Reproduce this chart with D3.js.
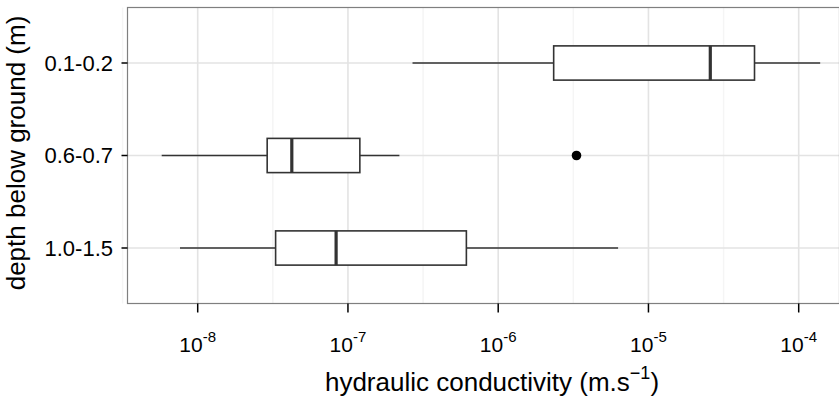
<!DOCTYPE html>
<html>
<head>
<meta charset="utf-8">
<script src="https://cdn.jsdelivr.net/npm/d3@7"></script>
<style>
  html, body { margin: 0; padding: 0; background: #ffffff; }
  svg { display: block; font-family: "Liberation Sans", Arial, sans-serif; }
</style>
</head>
<body>
<svg id="chart" width="839" height="401"></svg>
<script>
// ---- data ----
const categories = ["0.1-0.2", "0.6-0.7", "1.0-1.5"];
const whiskerLow = [2.69e-7, 5.76e-9, 7.62e-9];
const q1 = [2.34e-6, 2.90e-8, 3.30e-8];
const median = [2.58e-5, 4.23e-8, 8.34e-8];
const q3 = [5.08e-5, 1.20e-7, 6.14e-7];
const whiskerHigh = [1.39e-4, 2.20e-7, 6.28e-6];
const outlierCategory = ["0.6-0.7"];
const outlierValue = [3.32e-6];
const tickExponents = [-8, -7, -6, -5, -4];
const minorExponents = [-8.5, -7.5, -6.5, -5.5, -4.5, -3.5];
const xTitle = "hydraulic conductivity (m.s";
const yTitle = "depth below ground (m)";

// ---- layout ----
const svg = d3.select("#chart");
const panel = { left: 127.5, right: 839.5, top: 7.5, bottom: 303.5 };

const x = d3.scaleLog().domain([1e-8, 1e-4]).range([197.7, 798.7]);
const y = d3.scalePoint().domain(categories)
  .range([panel.top, panel.bottom]).padding(0.6);
const boxH = y.step() * 0.37;

const g = svg.append("g");

g.append("rect")
  .attr("x", panel.left).attr("y", panel.top)
  .attr("width", panel.right - panel.left).attr("height", panel.bottom - panel.top)
  .attr("fill", "#ffffff");

// minor grid
g.selectAll(".minor").data(minorExponents).enter().append("line")
  .attr("x1", d => x(Math.pow(10, d))).attr("x2", d => x(Math.pow(10, d)))
  .attr("y1", panel.top).attr("y2", panel.bottom)
  .attr("stroke", "#f5f5f5").attr("stroke-width", 1.5);

// major grid vertical
g.selectAll(".majorx").data(tickExponents).enter().append("line")
  .attr("x1", d => x(Math.pow(10, d))).attr("x2", d => x(Math.pow(10, d)))
  .attr("y1", panel.top).attr("y2", panel.bottom)
  .attr("stroke", "#e3e3e3").attr("stroke-width", 1.6);

// major grid horizontal
g.selectAll(".majory").data(categories).enter().append("line")
  .attr("x1", panel.left).attr("x2", panel.right)
  .attr("y1", d => y(d)).attr("y2", d => y(d))
  .attr("stroke", "#e3e3e3").attr("stroke-width", 1.6);

// boxplots
const rows = categories.map((c, i) => ({
  c, lo: whiskerLow[i], q1: q1[i], med: median[i], q3: q3[i], hi: whiskerHigh[i]
}));
const line = "#333333";
const bg = g.selectAll(".box").data(rows).enter().append("g");
bg.append("line")
  .attr("x1", d => x(d.lo)).attr("x2", d => x(d.q1))
  .attr("y1", d => y(d.c)).attr("y2", d => y(d.c))
  .attr("stroke", line).attr("stroke-width", 1.6);
bg.append("line")
  .attr("x1", d => x(d.q3)).attr("x2", d => x(d.hi))
  .attr("y1", d => y(d.c)).attr("y2", d => y(d.c))
  .attr("stroke", line).attr("stroke-width", 1.6);
bg.append("rect")
  .attr("x", d => x(d.q1)).attr("width", d => x(d.q3) - x(d.q1))
  .attr("y", d => y(d.c) - boxH / 2).attr("height", boxH)
  .attr("fill", "#ffffff").attr("stroke", line).attr("stroke-width", 1.6);
bg.append("line")
  .attr("x1", d => x(d.med)).attr("x2", d => x(d.med))
  .attr("y1", d => y(d.c) - boxH / 2).attr("y2", d => y(d.c) + boxH / 2)
  .attr("stroke", line).attr("stroke-width", 3.2);

// outliers
g.selectAll(".out").data(outlierValue).enter().append("circle")
  .attr("cx", d => x(d)).attr("cy", (d, i) => y(outlierCategory[i]))
  .attr("r", 4.8).attr("fill", "#000000");

// panel border
g.append("rect")
  .attr("x", panel.left).attr("y", panel.top)
  .attr("width", panel.right - panel.left).attr("height", panel.bottom - panel.top)
  .attr("fill", "none").attr("stroke", "#7f7f7f").attr("stroke-width", 1.2);

// x axis ticks + labels
const xa = g.append("g");
xa.selectAll("line").data(tickExponents).enter().append("line")
  .attr("x1", d => x(Math.pow(10, d))).attr("x2", d => x(Math.pow(10, d)))
  .attr("y1", panel.bottom).attr("y2", panel.bottom + 9)
  .attr("stroke", "#000000").attr("stroke-width", 1.5);
const xl = xa.selectAll("text").data(tickExponents).enter().append("text")
  .attr("x", d => x(Math.pow(10, d)))
  .attr("y", 352)
  .attr("text-anchor", "middle")
  .attr("font-size", 21)
  .attr("fill", "#000000");
xl.append("tspan").text("10");
xl.append("tspan").attr("dy", -10).attr("font-size", 15).text(d => "-" + Math.abs(d));

// y axis ticks + labels
const ya = g.append("g");
ya.selectAll("line").data(categories).enter().append("line")
  .attr("x1", panel.left - 6).attr("x2", panel.left)
  .attr("y1", d => y(d)).attr("y2", d => y(d))
  .attr("stroke", "#000000").attr("stroke-width", 1.5);
ya.selectAll("text").data(categories).enter().append("text")
  .attr("x", 113)
  .attr("y", d => y(d))
  .attr("dy", "0.36em")
  .attr("text-anchor", "end")
  .attr("font-size", 22)
  .attr("fill", "#000000")
  .text(d => d);

// titles
const xt = svg.append("text")
  .attr("x", 492).attr("y", 391)
  .attr("text-anchor", "middle")
  .attr("font-size", 26)
  .attr("fill", "#000000");
xt.append("tspan").text(xTitle);
xt.append("tspan").attr("dy", -12).attr("font-size", 18).text("\u22121");
xt.append("tspan").attr("dy", 12).text(")");

svg.append("text")
  .attr("transform", "translate(25,153) rotate(-90)")
  .attr("text-anchor", "middle")
  .attr("font-size", 26)
  .attr("fill", "#000000")
  .text(yTitle);
</script>
</body>
</html>
